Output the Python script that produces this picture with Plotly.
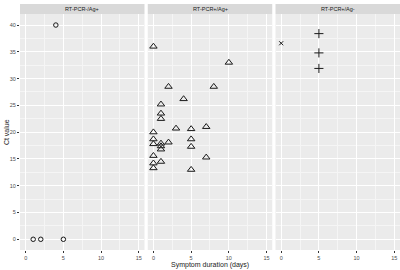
import plotly.graph_objects as go
from plotly.subplots import make_subplots

panels = ["RT-PCR-/Ag+", "RT-PCR+/Ag+", "RT-PCR+/Ag-"]

# Panel 1: open circles
p1_circle_x = [4, 1, 2, 5]
p1_circle_y = [40, 0, 0, 0]

# Panel 2: open triangles
p2_tri_x = [0, 10, 2, 8, 4, 1, 1, 1, 0, 3, 5, 7, 0, 0, 1, 2, 5, 5, 1, 1, 0, 7, 1, 0, 0, 5]
p2_tri_y = [36, 33, 28.5, 28.5, 26.2, 25.2, 23.5, 22.5, 20, 20.7, 20.6, 21, 18.7, 17.8,
            17.9, 18.1, 18.7, 17.3, 17.4, 16.8, 15.6, 15.3, 14.5, 14.2, 13.3, 13.0]

# Panel 3: cross and plus
p3_x_x = [0]
p3_x_y = [36.6]
p3_plus_x = [5, 5, 5]
p3_plus_y = [38.4, 34.8, 31.9]

x_ticks = [0, 5, 10, 15]
y_ticks = [0, 5, 10, 15, 20, 25, 30, 35, 40]

fig = make_subplots(rows=1, cols=3, shared_yaxes=True, horizontal_spacing=0.0086)

mk_line = dict(color="#1a1a1a", width=1)
fig.add_trace(go.Scatter(x=p1_circle_x, y=p1_circle_y, mode="markers",
                         marker=dict(symbol="circle-open", size=4.5, color="#1a1a1a", line=mk_line)),
              row=1, col=1)
fig.add_trace(go.Scatter(x=p2_tri_x, y=p2_tri_y, mode="markers",
                         marker=dict(symbol="triangle-up-open", size=6.5, color="#1a1a1a", line=mk_line)),
              row=1, col=2)
fig.add_trace(go.Scatter(x=p3_x_x, y=p3_x_y, mode="markers",
                         marker=dict(symbol="x-thin-open", size=4, color="#1a1a1a", line=mk_line)),
              row=1, col=3)
fig.add_trace(go.Scatter(x=p3_plus_x, y=p3_plus_y, mode="markers",
                         marker=dict(symbol="cross-thin-open", size=6.5, color="#1a1a1a", line=mk_line)),
              row=1, col=3)

ytop = 0.958
domains = [[0.0, 0.3276], [0.3362, 0.6638], [0.6724, 1.0]]
font = "Liberation Sans, Arial, sans-serif"

for i in range(3):
    ax = "xaxis" if i == 0 else f"xaxis{i+1}"
    fig.layout[ax].update(
        domain=domains[i], range=[-0.75, 15.75], tickvals=x_ticks,
        ticktext=[str(t) for t in x_ticks], automargin=False,
        showgrid=True, gridcolor="white", gridwidth=0.8, zeroline=False,
        minor=dict(showgrid=True, gridcolor="#F5F5F5", gridwidth=0.5, dtick=2.5, tick0=0),
        ticks="outside", ticklen=2, tickcolor="#333333", tickwidth=0.6,
        tickfont=dict(size=5.5, color="#4D4D4D", family=font),
        showline=False,
    )
    ay = "yaxis" if i == 0 else f"yaxis{i+1}"
    fig.layout[ay].update(
        domain=[0, ytop], range=[-2, 42], tickvals=y_ticks, automargin=False,
        showgrid=True, gridcolor="white", gridwidth=0.8, zeroline=False,
        minor=dict(showgrid=True, gridcolor="#F5F5F5", gridwidth=0.5, dtick=2.5, tick0=0),
        showline=False,
    )
    if i == 0:
        fig.layout[ay].update(ticks="outside", ticklen=2, tickcolor="#333333", tickwidth=0.6,
                              tickfont=dict(size=5.5, color="#4D4D4D", family=font))
    else:
        fig.layout[ay].update(showticklabels=False, ticks="")
    # strip
    fig.add_shape(type="rect", xref="paper", yref="paper",
                  x0=domains[i][0], x1=domains[i][1], y0=ytop, y1=1.0,
                  fillcolor="#D9D9D9", line=dict(width=0), layer="below")
    fig.add_annotation(text=panels[i], xref="paper", yref="paper",
                       x=(domains[i][0] + domains[i][1]) / 2, y=(ytop + 1) / 2,
                       showarrow=False, xanchor="center", yanchor="middle",
                       font=dict(size=5.5, color="#1A1A1A", family=font))

fig.add_annotation(text="Symptom duration (days)", xref="paper", yref="paper",
                   x=0.5, y=-0.06, showarrow=False, xanchor="center", yanchor="middle",
                   font=dict(size=7, color="#1a1a1a", family=font))
fig.add_annotation(text="Ct value", xref="paper", yref="paper",
                   x=-0.037, y=ytop / 2, showarrow=False, xanchor="center", yanchor="middle",
                   textangle=-90, font=dict(size=7, color="#1a1a1a", family=font))

fig.update_layout(
    width=400, height=270,
    margin=dict(l=20, r=0, t=4, b=20),
    paper_bgcolor="white", plot_bgcolor="#EBEBEB",
    showlegend=False,
    font=dict(family=font),
)

fig.write_html("out.html", config={"displayModeBar": False},
               post_script="document.body.style.margin='0px';")
